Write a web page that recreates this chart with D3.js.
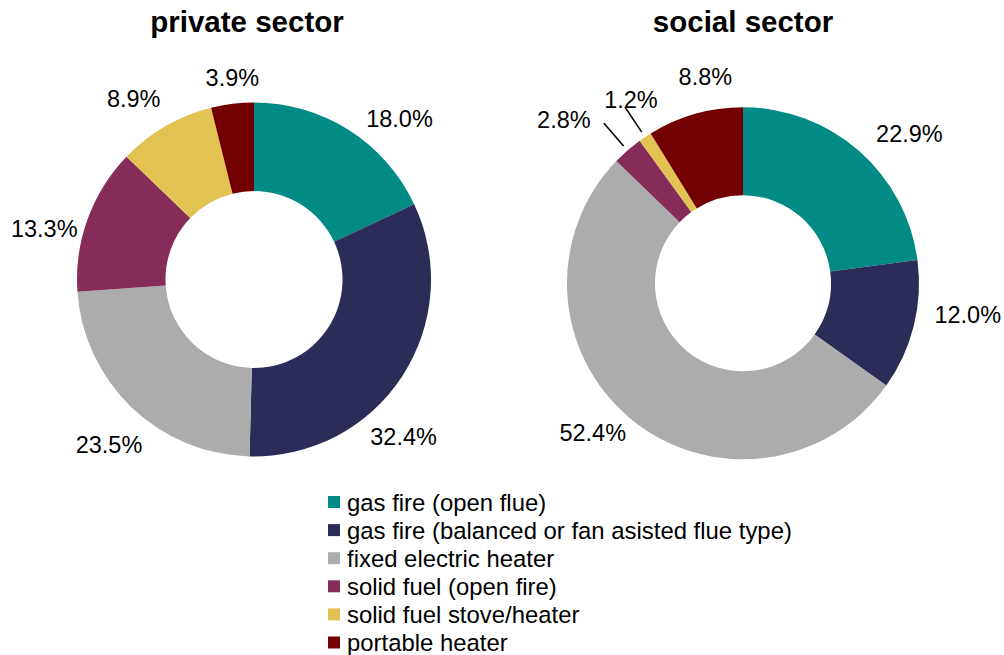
<!DOCTYPE html>
<html>
<head>
<meta charset="utf-8">
<script src="https://cdn.jsdelivr.net/npm/d3@7"></script>
<style>
  html, body { margin: 0; padding: 0; background: #fff; }
  svg { display: block; font-family: "Liberation Sans", Arial, sans-serif; }
</style>
</head>
<body>
<svg id="chart" width="1004" height="655"></svg>
<script>
// Heater types (shared by both doughnuts and the legend)
const categories = [
  "gas fire (open flue)",
  "gas fire (balanced or fan asisted flue type)",
  "fixed electric heater",
  "solid fuel (open fire)",
  "solid fuel stove/heater",
  "portable heater"
];
const colors = ["#018A86", "#2C2C59", "#ACACAC", "#862C58", "#E2C252", "#720000"];

// Share of households (%) by heater type
const privateValues = [18.0, 32.4, 23.5, 13.3, 8.9, 3.9];
const socialValues  = [22.9, 12.0, 52.4, 2.8, 1.2, 8.8];

const titles = ["private sector", "social sector"];

// Hand placement of the percentage labels: angular nudge from the slice
// middle (degrees) and distance from the centre (px)
const privateLabelNudge  = [9.7, 13.3, -2.5, -6.2, -3.6, 0.9];
const privateLabelRadius = [217, 217, 220, 216, 217, 203];
const socialLabelNudge   = [6.8, -5.9, 5.4, -6.5, 2.4, 5.5];
const socialLabelRadius  = [224, 227, 212, 243, 215, 210];

const svg = d3.select("#chart");

const color = d3.scaleOrdinal().domain(categories).range(colors);
const fmt = d3.format(".1f");

const panels = [
  { title: titles[0], values: privateValues, cx: 254, cy: 279.5, outer: 177, inner: 88.5,
    titleX: 247, nudge: privateLabelNudge, lr: privateLabelRadius },
  { title: titles[1], values: socialValues, cx: 743, cy: 283.3, outer: 176, inner: 88,
    titleX: 743, nudge: socialLabelNudge, lr: socialLabelRadius }
];

const pie = d3.pie().sort(null).value(d => d.value);

function polar(angle, r) {
  return [Math.sin(angle) * r, -Math.cos(angle) * r];
}

panels.forEach(p => {
  const rows = categories.map((c, i) => ({ category: c, value: p.values[i] }));
  const arcs = pie(rows);
  const arc = d3.arc().innerRadius(p.inner).outerRadius(p.outer);

  svg.append("text")
    .attr("x", p.titleX)
    .attr("y", 32)
    .attr("text-anchor", "middle")
    .attr("font-size", 29.5)
    .attr("font-weight", "bold")
    .attr("fill", "#000")
    .text(p.title);

  const g = svg.append("g").attr("transform", `translate(${p.cx},${p.cy})`);

  g.selectAll("path.slice")
    .data(arcs)
    .join("path")
    .attr("class", "slice")
    .attr("d", arc)
    .attr("fill", d => color(d.data.category));

  arcs.forEach((a, i) => {
    const mid = (a.startAngle + a.endAngle) / 2;
    const ang = mid + p.nudge[i] * Math.PI / 180;
    const [lx, ly] = polar(ang, p.lr[i]);

    // small slices get a leader line from the ring edge
    if (a.endAngle - a.startAngle < 0.03 * 2 * Math.PI) {
      const [x1, y1] = polar(mid, p.outer + 6);
      const [x2, y2] = polar(mid, p.outer + 36);
      g.append("line")
        .attr("x1", x1).attr("y1", y1)
        .attr("x2", x2).attr("y2", y2)
        .attr("stroke", "#000")
        .attr("stroke-width", 1.6);
    }

    g.append("text")
      .attr("x", lx)
      .attr("y", ly)
      .attr("text-anchor", "middle")
      .attr("dy", "0.36em")
      .attr("font-size", 23.5)
      .attr("fill", "#000")
      .text(fmt(a.data.value) + "%");
  });
});

// Legend
const legend = svg.append("g").attr("transform", "translate(328,502)");
const rowStep = 28.1;
const item = legend.selectAll("g.item")
  .data(categories)
  .join("g")
  .attr("class", "item")
  .attr("transform", (d, i) => `translate(0,${i * rowStep})`);

item.append("rect")
  .attr("x", 0)
  .attr("y", -6)
  .attr("width", 12)
  .attr("height", 12)
  .attr("fill", d => color(d));

item.append("text")
  .attr("x", 19)
  .attr("y", 0)
  .attr("dy", "0.36em")
  .attr("font-size", 23.9)
  .attr("fill", "#000")
  .text(d => d);
</script>
</body>
</html>
